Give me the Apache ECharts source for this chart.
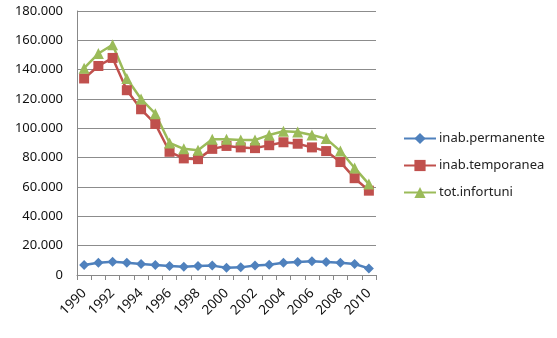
<!DOCTYPE html>
<html><head><meta charset="utf-8">
<script src="https://cdn.jsdelivr.net/npm/echarts@6/dist/echarts.min.js"></script>
<style>html,body{margin:0;padding:0;background:#fff}#c{width:557px;height:338px}</style>
</head><body><div id="c"></div>
<script>
const years = ['1990','1991','1992','1993','1994','1995','1996','1997','1998','1999','2000','2001','2002','2003','2004','2005','2006','2007','2008','2009','2010'];
const permanente = [6800,8400,9000,8400,7500,6800,6100,5700,6100,6400,5000,5200,6400,7000,8400,8900,9300,8900,8400,7500,4500];
const temporanea = [134000,142500,148000,126000,113000,103000,84000,79500,79000,86000,88000,87000,86500,88500,90500,89500,87000,84500,77000,66000,57500];
const totale = [141000,151000,157000,134000,120000,110000,90000,86000,85000,92500,92500,92000,92000,95500,98000,97500,95500,93000,84500,73000,62000];
const yTicks = {min:0, max:180000, interval:20000};

const chart = echarts.init(document.getElementById('c'), null, {renderer:'canvas'});
const font = 'Noto Sans';
function fmt(v){ return v === 0 ? '0' : String(v).replace(/\B(?=(\d{3})+(?!\d))/g, '.'); }
chart.setOption({
  animation:false,
  grid:{left:77, top:11, right:181, bottom:63, containLabel:false},
  legend:{
    orient:'vertical', left:403, top:132, padding:0, itemGap:14, itemWidth:32, itemHeight:14,
    textStyle:{fontFamily:font, fontSize:13, color:'#222', padding:[0,0,0,-2]},
    data:['inab.permanente','inab.temporanea','tot.infortuni']
  },
  xAxis:{
    type:'category', data:years, boundaryGap:true,
    axisLine:{lineStyle:{color:'#888', width:1}},
    axisTick:{show:true, length:5, interval:0, lineStyle:{color:'#888'}},
    axisLabel:{interval:1, rotate:45, fontFamily:font, fontSize:13.5, color:'#111', margin:16,
               padding:[0,0,0,0], align:'right', verticalAlign:'middle'}
  },
  yAxis:{
    type:'value', min:yTicks.min, max:yTicks.max, interval:yTicks.interval,
    axisLine:{show:true, lineStyle:{color:'#888'}},
    axisTick:{show:false},
    splitLine:{lineStyle:{color:'#8c8c8c', width:1}},
    axisLabel:{formatter:fmt, fontFamily:font, fontSize:13, color:'#111', margin:14}
  },
  series:[
    {name:'inab.permanente', type:'line', data:permanente, symbol:'diamond', symbolSize:10, showAllSymbol:true,
     lineStyle:{color:'#4F81BD', width:2.5}, itemStyle:{color:'#4F81BD'}},
    {name:'inab.temporanea', type:'line', data:temporanea, symbol:'rect', symbolSize:10, showAllSymbol:true,
     lineStyle:{color:'#C0504D', width:2.5}, itemStyle:{color:'#C0504D'}},
    {name:'tot.infortuni', type:'line', data:totale, symbol:'triangle', symbolSize:11, showAllSymbol:true,
     lineStyle:{color:'#9BBB59', width:2.5}, itemStyle:{color:'#9BBB59'}}
  ]
});
</script></body></html>
